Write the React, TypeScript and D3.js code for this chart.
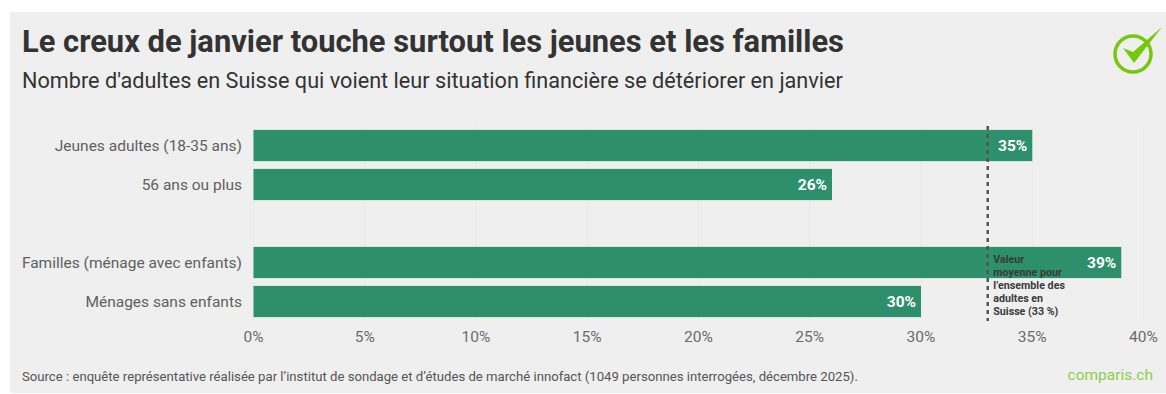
import React, { useEffect, useRef } from "react";
import * as d3 from "d3";

const categories = [
  "Jeunes adultes (18-35 ans)",
  "56 ans ou plus",
  "",
  "Familles (ménage avec enfants)",
  "Ménages sans enfants",
];
const values = [35, 26, null, 39, 30];
const ticks = [0, 5, 10, 15, 20, 25, 30, 35, 40];
const average = 33;
const averageLines = [
  "Valeur",
  "moyenne pour",
  "l’ensemble des",
  "adultes en",
  "Suisse (33 %)",
];

const width = 1166;
const height = 394;
const FONT = "Roboto, sans-serif";

export default function App() {
  const svgRef = useRef<SVGSVGElement>(null);

  useEffect(() => {
    if (!svgRef.current) return;
    const svg = d3.select(svgRef.current);
    svg.selectAll("*").remove();

    const x = d3.scaleLinear().domain([0, 40]).range([253.5, 1143.5]);
    const y = d3
      .scaleBand<string>()
      .domain(categories.map((c, i) => i + ""))
      .range([126, 321])
      .paddingInner(0.2)
      .paddingOuter(0.1);

    // fond
    svg
      .append("rect")
      .attr("x", 10)
      .attr("y", 12)
      .attr("width", width - 10)
      .attr("height", height - 13)
      .attr("fill", "#efefef");

    // titres
    svg
      .append("text")
      .attr("x", 22)
      .attr("y", 52)
      .attr("font-size", 30.9)
      .attr("font-weight", 700)
      .attr("fill", "#333333")
      .text("Le creux de janvier touche surtout les jeunes et les familles");
    svg
      .append("text")
      .attr("x", 22)
      .attr("y", 88)
      .attr("font-size", 21.66)
      .attr("fill", "#333333")
      .text(
        "Nombre d'adultes en Suisse qui voient leur situation financière se détériorer en janvier",
      );

    // grille
    svg
      .append("g")
      .selectAll("line")
      .data(ticks)
      .join("line")
      .attr("x1", (d) => x(d))
      .attr("x2", (d) => x(d))
      .attr("y1", 126)
      .attr("y2", 321)
      .attr("stroke", "#e9e9e9")
      .attr("stroke-width", 1);

    // barres
    const rows = categories.map((c, i) => ({ c, i, v: values[i] }));
    svg
      .append("g")
      .selectAll("rect")
      .data(rows.filter((d) => d.v !== null))
      .join("rect")
      .attr("x", x(0))
      .attr("y", (d) => y(d.i + "")!)
      .attr("width", (d) => x(d.v as number) - x(0))
      .attr("height", y.bandwidth())
      .attr("fill", "#2e8f6c");

    // libellés catégories
    svg
      .append("g")
      .selectAll("text")
      .data(rows.filter((d) => d.c))
      .join("text")
      .attr("x", 242)
      .attr("y", (d) => y(d.i + "")! + y.bandwidth() / 2)
      .attr("dy", "0.35em")
      .attr("text-anchor", "end")
      .attr("font-size", 15.5)
      .attr("fill", "#5f5f5f")
      .text((d) => d.c);

    // ligne moyenne
    svg
      .append("line")
      .attr("x1", x(average))
      .attr("x2", x(average))
      .attr("y1", 126)
      .attr("y2", 321)
      .attr("stroke", "#555555")
      .attr("stroke-width", 2.5)
      .attr("stroke-dasharray", "4 4");

    // valeurs
    svg
      .append("g")
      .selectAll("text")
      .data(rows.filter((d) => d.v !== null))
      .join("text")
      .attr("x", (d) => x(d.v as number) - 5)
      .attr("y", (d) => y(d.i + "")! + y.bandwidth() / 2)
      .attr("dy", "0.35em")
      .attr("text-anchor", "end")
      .attr("font-size", 15.5)
      .attr("font-weight", 700)
      .attr("fill", "#ffffff")
      .text((d) => d.v + "%");

    // annotation
    svg
      .append("g")
      .selectAll("text")
      .data(averageLines)
      .join("text")
      .attr("x", x(average) + 5.5)
      .attr("y", (_, i) => 263 + i * 13)
      .attr("font-size", 10.7)
      .attr("font-weight", 700)
      .attr("fill", "#3a3a3a")
      .text((d) => d);

    // axe x
    svg
      .append("g")
      .selectAll("text")
      .data(ticks)
      .join("text")
      .attr("x", (d) => x(d))
      .attr("y", 342)
      .attr("text-anchor", "middle")
      .attr("font-size", 15.5)
      .attr("fill", "#6b6b6b")
      .text((d) => d + "%");

    // source
    svg
      .append("text")
      .attr("x", 22)
      .attr("y", 381)
      .attr("font-size", 13.15)
      .attr("fill", "#555555")
      .text(
        "Source : enquête représentative réalisée par l’institut de sondage et d’études de marché innofact (1049 personnes interrogées, décembre 2025).",
      );

    // logo comparis
    svg
      .append("text")
      .attr("x", 1153)
      .attr("y", 380)
      .attr("text-anchor", "end")
      .attr("font-size", 15.5)
      .attr("fill", "#8ccf4d")
      .text("comparis.ch");

    const logo = svg.append("g");
    logo
      .append("circle")
      .attr("cx", 1133)
      .attr("cy", 54)
      .attr("r", 18)
      .attr("fill", "none")
      .attr("stroke", "#76c80e")
      .attr("stroke-width", 3.5);
    logo
      .append("path")
      .attr("d", "M1123 48 L1133 52 L1162 27 L1134 63 Z")
      .attr("fill", "#76c80e");
  }, []);

  return (
    <svg
      ref={svgRef}
      width={width}
      height={height}
      fontFamily={FONT}
      style={{ position: "fixed", left: 0, top: 0, background: "#fff" }}
    />
  );
}
